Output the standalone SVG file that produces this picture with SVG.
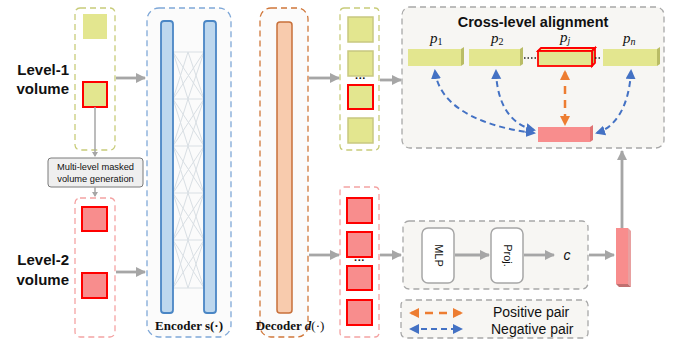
<svg xmlns="http://www.w3.org/2000/svg" width="681" height="340" viewBox="0 0 681 340">
<style>
.lbl{font-family:"Liberation Sans",Arial,sans-serif;font-weight:bold;font-size:15px;fill:#111}
.dash{stroke-dasharray:6 4;stroke-width:1.3}
.ysq{fill:#e3e68f;stroke:#c8c880;stroke-width:1.5}
.yplain{fill:#e3e68f}
.rsq{fill:#f88d8d;stroke:#ff0000;stroke-width:2}
.ysqr{fill:#e3e68f;stroke:#ff0000;stroke-width:2}
.garr{stroke:#a6a6a6;stroke-width:2.8;fill:none;marker-end:url(#ga)}
.ser{font-family:"Liberation Serif","Times New Roman",serif;font-size:13px;fill:#111}
.pl{font-family:"Liberation Serif","Times New Roman",serif;font-style:italic;font-size:15px;fill:#111}
.sans{font-family:"Liberation Sans",Arial,sans-serif;fill:#111}
.blue{stroke:#4472c4;stroke-width:2;fill:none;stroke-dasharray:6 4;marker-start:url(#ba);marker-end:url(#ba)}
.orng{stroke:#ed7d31;stroke-width:2.5;fill:none;stroke-dasharray:8 6;marker-start:url(#oa);marker-end:url(#oa)}
</style>
<defs>
<marker id="ga" markerUnits="userSpaceOnUse" markerWidth="12" markerHeight="12" refX="9" refY="5" orient="auto"><path d="M0,0L10,5L0,10z" fill="#a6a6a6"/></marker>
<marker id="ba" markerUnits="userSpaceOnUse" markerWidth="12" markerHeight="12" refX="8" refY="5" orient="auto-start-reverse"><path d="M0,0L10,5L0,10z" fill="#4472c4"/></marker>
<marker id="oa" markerUnits="userSpaceOnUse" markerWidth="12" markerHeight="12" refX="8" refY="5" orient="auto-start-reverse"><path d="M0,0L10,5L0,10z" fill="#ed7d31"/></marker>
</defs>
<rect width="681" height="340" fill="#ffffff"/>

<g id="level1">
<rect x="75" y="8" width="40" height="142" rx="5" fill="#ffffff" stroke="#c8cc7a" class="dash"/>
<rect x="83" y="14" width="24" height="25" class="yplain"/>
<rect x="83" y="82" width="24" height="25" class="ysqr"/>
<text class="lbl" x="69" y="75" text-anchor="end">Level-1</text>
<text class="lbl" x="69" y="94" text-anchor="end">volume</text>
</g>

<g id="maskgen">
<rect x="48" y="158" width="95" height="29" rx="3" fill="#efefef" stroke="#7a7a7a" stroke-width="1"/>
<text class="sans" font-size="9.3" x="95.5" y="170" text-anchor="middle">Multi-level masked</text>
<text class="sans" font-size="9.3" x="95.5" y="182" text-anchor="middle">volume generation</text>
</g>

<g id="level2">
<rect x="75" y="198" width="40" height="139" rx="5" fill="#ffffff" stroke="#f4a3a3" class="dash"/>
<rect x="82" y="207" width="25" height="24" class="rsq"/>
<rect x="82" y="273" width="25" height="25" class="rsq"/>
<text class="lbl" x="69" y="265" text-anchor="end">Level-2</text>
<text class="lbl" x="69" y="285" text-anchor="end">volume</text>
</g>

<g id="encoder">
<rect x="147" y="8" width="84" height="329" rx="12" fill="#fbfbfb" stroke="#7fa8d8" class="dash" stroke-width="1.5"/>
<path d="M173 52H204M173 99H204M173 146H204M173 193H204M173 240H204M173 288H204
M173 52L204 99M204 52L173 99M173 52L188 99M188 52L204 99M188 52L173 99M204 52L188 99
M173 99L204 146M204 99L173 146M173 99L188 146M188 99L204 146M188 99L173 146M204 99L188 146
M173 146L204 193M204 146L173 193M173 146L188 193M188 146L204 193M188 146L173 193M204 146L188 193
M173 193L204 240M204 193L173 240M173 193L188 240M188 193L204 240M188 193L173 240M204 193L188 240
M173 240L204 288M204 240L173 288M173 240L188 288M188 240L204 288M188 240L173 288M204 240L188 288" stroke="#d9dfe4" stroke-width="1" fill="none"/>
<rect x="161" y="21" width="12" height="292" rx="3" fill="#bdd7ee" stroke="#4a86c5" stroke-width="1.8"/>
<rect x="204" y="21" width="12" height="292" rx="3" fill="#bdd7ee" stroke="#4a86c5" stroke-width="1.8"/>
<text class="ser" x="189" y="330" text-anchor="middle" font-weight="bold">Encoder s(·)</text>
</g>

<g id="decoder">
<rect x="260" y="8" width="48" height="329" rx="11" fill="#fbfbfb" stroke="#d0773a" class="dash" stroke-width="1.5"/>
<rect x="277" y="22" width="15" height="291" rx="3" fill="#f8cbad" stroke="#c8703a" stroke-width="1.5"/>
<text class="ser" x="290" y="330" text-anchor="middle"><tspan font-weight="bold">Decoder </tspan><tspan font-weight="bold" font-style="italic">d</tspan><tspan>(·)</tspan></text>
</g>

<g id="out1">
<rect x="340" y="8" width="39" height="142" rx="4" fill="#ffffff" stroke="#c8cc7a" class="dash"/>
<rect x="348" y="17" width="25" height="25" class="ysq"/>
<rect x="348" y="51" width="25" height="25" class="ysq"/>
<text class="sans" font-size="11" font-weight="bold" x="360.5" y="82" text-anchor="middle">···</text>
<rect x="348" y="85" width="25" height="24" class="ysqr"/>
<rect x="348" y="118" width="25" height="25" class="ysq"/>
</g>

<g id="out2">
<rect x="340" y="187" width="39" height="150" rx="4" fill="#ffffff" stroke="#f4a3a3" class="dash"/>
<rect x="347" y="198" width="25" height="25" class="rsq"/>
<rect x="347" y="232" width="25" height="25" class="rsq"/>
<text class="sans" font-size="11" font-weight="bold" x="359.5" y="264" text-anchor="middle">···</text>
<rect x="347" y="266" width="25" height="24" class="rsq"/>
<rect x="347" y="300" width="25" height="25" class="rsq"/>
</g>

<g id="crosslevel">
<rect x="402" y="7" width="262" height="141" rx="8" fill="#f7f6f3" stroke="#a8a8a8" class="dash" stroke-width="1.3"/>
<text class="sans" font-size="14.5" font-weight="bold" x="533" y="27" text-anchor="middle">Cross-level alignment</text>
<g id="p1">
<rect x="408" y="49" width="53" height="17" fill="#e3e68f"/>
<path d="M461 49L464 47V64L461 66z" fill="#b9bc66"/>
<text class="pl" x="430" y="43">p<tspan font-size="10" font-style="normal" dy="2">1</tspan></text>
</g>
<g id="p2">
<rect x="469" y="49" width="51" height="17" fill="#e3e68f"/>
<path d="M520 49L523 47V64L520 66z" fill="#b9bc66"/>
<text class="pl" x="491" y="43">p<tspan font-size="10" font-style="normal" dy="2">2</tspan></text>
</g>
<g id="pj">
<path d="M538 51L541 48H595L592 51z" fill="#eef0a8" stroke="#ff0000" stroke-width="1.8"/>
<path d="M592 51L595 48V63L592 66z" fill="#b9bc66" stroke="#ff0000" stroke-width="1.8"/>
<rect x="538" y="51" width="54" height="15" fill="#e3e68f" stroke="#ff0000" stroke-width="1.8"/>
<text class="pl" x="560" y="42">p<tspan font-size="10" dy="2">j</tspan></text>
</g>
<g id="pn">
<rect x="603" y="49" width="54" height="17" fill="#e3e68f"/>
<path d="M657 49L660 47V64L657 66z" fill="#b9bc66"/>
<text class="pl" x="623" y="43">p<tspan font-size="10" dy="2">n</tspan></text>
</g>
<path d="M524 58H537M595 58H602" stroke="#222" stroke-width="1.5" stroke-dasharray="1.5 2" fill="none"/>
<g id="pc">
<rect x="538" y="127" width="52" height="15" fill="#f88d8d"/>
<path d="M590 127L593 125V140L590 142z" fill="#e07272"/>
</g>
</g>

<g id="mlpgroup">
<rect x="403" y="221" width="185" height="68" rx="6" fill="#f7f6f3" stroke="#a8a8a8" class="dash" stroke-width="1.3"/>
<g id="mlp">
<rect x="422" y="228" width="32" height="55" rx="6" fill="#ffffff" stroke="#a6a6a6" stroke-width="1.5"/>
<text class="sans" font-size="11" transform="translate(434.5 255.5) rotate(90)" text-anchor="middle">MLP</text>
</g>
<g id="proj">
<rect x="491" y="228" width="32" height="55" rx="6" fill="#ffffff" stroke="#a6a6a6" stroke-width="1.5"/>
<text class="sans" font-size="11" transform="translate(503.5 255.5) rotate(90)" text-anchor="middle">Proj.</text>
</g>
<text class="sans" font-size="14" font-style="italic" x="567" y="260" text-anchor="middle">c</text>
</g>

<g id="cvec">
<rect x="616" y="228" width="12" height="56" fill="#f88d8d"/>
<path d="M628 228L631 231V287L628 284z" fill="#e8a0a0"/>
<path d="M616 284H628L631 287H619z" fill="#c07070"/>
</g>

<g id="legend">
<rect x="401" y="300" width="187" height="38" rx="5" fill="#f7f6f3" stroke="#a8a8a8" class="dash" stroke-width="1.3"/>
<path d="M411 313H461" class="orng" stroke-dasharray="9 7"/>
<path d="M411 329H461" class="blue" stroke-dasharray="9 7"/>
<text class="sans" font-size="14" x="493" y="317">Positive pair</text>
<text class="sans" font-size="14" x="491" y="334">Negative pair</text>
</g>

<g id="connectors">
<path d="M116 78H145" class="garr"/>
<path d="M116 272H145" class="garr"/>
<path d="M95 107V156" stroke="#a6a6a6" stroke-width="1.5" fill="none"/>
<path d="M92 152L95 157L98 152z" fill="#a6a6a6"/>
<path d="M95 187V196" stroke="#a6a6a6" stroke-width="1.5" fill="none"/>
<path d="M92 192L95 197L98 192z" fill="#a6a6a6"/>
<path d="M309 78H339" class="garr"/>
<path d="M309 255H339" class="garr"/>
<path d="M380 80H401" class="garr"/>
<path d="M380 255H401" class="garr"/>
<path d="M455 255H489" class="garr"/>
<path d="M524 255H554" class="garr"/>
<path d="M589 255H614" class="garr"/>
<path d="M622 228V151" class="garr"/>
<path d="M565 72V124" class="orng"/>
<path d="M435 71C440 112 492 128 534 133" class="blue"/>
<path d="M496 71C497 106 512 125 534 130" class="blue"/>
<path d="M631 71C629 110 613 128 597 133" class="blue"/>
</g>
</svg>
